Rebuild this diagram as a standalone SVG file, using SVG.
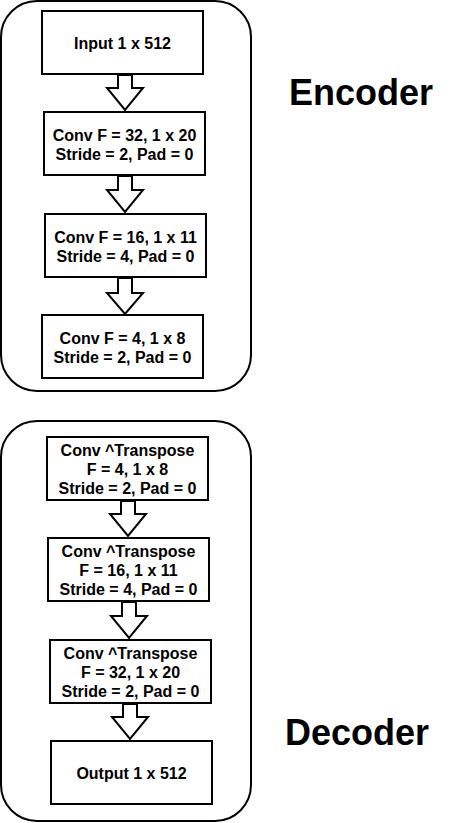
<svg xmlns="http://www.w3.org/2000/svg" width="472" height="823" viewBox="0 0 472 823">
<style>
.container{fill:#fff;stroke:#000;stroke-width:2}
.box{fill:#fff;stroke:#000;stroke-width:2}
.arrow{fill:#fff;stroke:#000;stroke-width:2;stroke-linejoin:miter}
.t{font-family:"Liberation Sans",Arial,sans-serif;font-weight:bold;font-size:16px;text-anchor:middle;fill:#000}
.title{font-family:"Liberation Sans",Arial,sans-serif;font-weight:bold;font-size:36px;text-anchor:middle;fill:#000}
</style>
<rect width="472" height="823" fill="#fff"/>
<g id="encoder-group">
<rect class="container" x="1" y="1" width="250" height="390" rx="36" ry="36"/>
</g>
<g id="decoder-group">
<rect class="container" x="1" y="421" width="250" height="400" rx="36" ry="36"/>
</g>
<g id="connectors">
<path class="arrow" d="M118,75 L132,75 L132,88 L143,88 L125,110 L107,88 L118,88 Z"/>
<path class="arrow" d="M118,176 L132,176 L132,190 L143,190 L125,212 L107,190 L118,190 Z"/>
<path class="arrow" d="M118,278 L132,278 L132,293 L143,293 L125,314 L107,293 L118,293 Z"/>
<path class="arrow" d="M121,501 L135,501 L135,514 L146,514 L128,536 L110,514 L121,514 Z"/>
<path class="arrow" d="M122,602 L136,602 L136,616 L147,616 L129,638 L111,616 L122,616 Z"/>
<path class="arrow" d="M123,704 L137,704 L137,717 L148,717 L130,739 L112,717 L123,717 Z"/>
</g>
<g id="input">
<rect class="box" x="42" y="11" width="161" height="63"/>
<text class="t" x="122.5" y="49">Input 1 x 512</text>
</g>
<g id="conv1">
<rect class="box" x="44" y="112" width="161" height="63"/>
<text class="t" x="124.5" y="141">Conv F = 32, 1 x 20</text>
<text class="t" x="124.5" y="160">Stride = 2, Pad = 0</text>
</g>
<g id="conv2">
<rect class="box" x="45" y="214" width="161" height="63"/>
<text class="t" x="125.5" y="243">Conv F = 16, 1 x 11</text>
<text class="t" x="125.5" y="262">Stride = 4, Pad = 0</text>
</g>
<g id="conv3">
<rect class="box" x="42" y="315" width="161" height="63"/>
<text class="t" x="122.5" y="344">Conv F = 4, 1 x 8</text>
<text class="t" x="122.5" y="363">Stride = 2, Pad = 0</text>
</g>
<g id="deconv1">
<rect class="box" x="47" y="437" width="161" height="63"/>
<text class="t" x="127.5" y="456">Conv ^Transpose</text>
<text class="t" x="127.5" y="475">F = 4, 1 x 8</text>
<text class="t" x="127.5" y="494">Stride = 2, Pad = 0</text>
</g>
<g id="deconv2">
<rect class="box" x="48" y="538" width="161" height="63"/>
<text class="t" x="128.5" y="557">Conv ^Transpose</text>
<text class="t" x="128.5" y="576">F = 16, 1 x 11</text>
<text class="t" x="128.5" y="595">Stride = 4, Pad = 0</text>
</g>
<g id="deconv3">
<rect class="box" x="50" y="640" width="161" height="63"/>
<text class="t" x="130.5" y="659">Conv ^Transpose</text>
<text class="t" x="130.5" y="678">F = 32, 1 x 20</text>
<text class="t" x="130.5" y="697">Stride = 2, Pad = 0</text>
</g>
<g id="output">
<rect class="box" x="51" y="741" width="161" height="63"/>
<text class="t" x="131.5" y="779">Output 1 x 512</text>
</g>
<g id="encoder-label">
<text class="title" x="361" y="105">Encoder</text>
</g>
<g id="decoder-label">
<text class="title" x="357" y="745">Decoder</text>
</g>
</svg>
